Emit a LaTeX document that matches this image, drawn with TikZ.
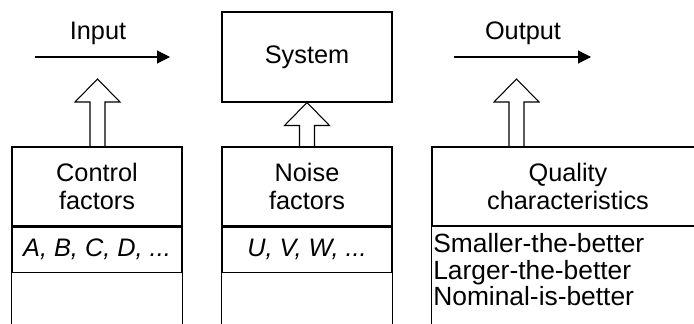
\documentclass[tikz,border=0pt]{standalone}
\usepackage{fontspec}
\setmainfont{Liberation Sans}
\usetikzlibrary{positioning,calc,arrows.meta}

\tikzset{
  txt/.style={font=\fontsize{14.4}{16}\selectfont},
  cell/.style={txt, draw, line width=0.6pt, minimum width=34mm, inner sep=0pt, align=center},
  head/.style={cell, minimum height=15.8mm},
  item/.style={cell, minimum height=9mm, font=\fontsize{14.4}{16}\selectfont\itshape},
  flow/.style={line width=0.6pt, -{Triangle[length=2.6mm,width=2.6mm]}},
  % block arrow pointing up, from the start point to the tip
  hollow/.style={line width=0.6pt, to path={let \p1=(\tikztostart), \p2=(\tikztotarget) in
    (\x1-1.5mm,\y1) -- (\x1-1.5mm,\y2-4.6mm) -- (\x1-4.5mm,\y2-4.6mm) -- (\x1,\y2)
    -- (\x1+4.5mm,\y2-4.6mm) -- (\x1+1.5mm,\y2-4.6mm) -- (\x1+1.5mm,\y1)}},
}

\begin{document}
\begin{tikzpicture}[x=0.2mm, y=-0.2mm]
    \useasboundingbox (0,0) rectangle (694,324);
    \clip (0,0) rectangle (694,324);
    % the system with its input and output
    \node[cell, minimum height=18mm] (sys) at (307,57) {System};
    \coordinate (inA) at (35,57);
    \coordinate (inB) at (170,57);
    \draw[flow] (inA) -- (inB);
    \node[txt] (inlbl) at (98,33) {Input};
    \coordinate (outA) at (454,57);
    \coordinate (outB) at (591,57);
    \draw[flow] (outA) -- (outB);
    \node[txt] (outlbl) at (523,33) {Output};
    % control factors
    \node[head] (ctrl) at (97,186.5) {Control\\factors};
    \node[item, below=0pt of ctrl] (ctrlset) {A, B, C, D, ...};
    \draw[line width=0.6pt] (ctrlset.south west) -- ++(0,70);
    \draw[line width=0.6pt] (ctrlset.south east) -- ++(0,70);
    % noise factors
    \node[head] (noise) at (307,186.5) {Noise\\factors};
    \node[item, below=0pt of noise] (noiseset) {U, V, W, ...};
    \draw[line width=0.6pt] (noiseset.south west) -- ++(0,70);
    \draw[line width=0.6pt] (noiseset.south east) -- ++(0,70);
    % quality characteristics
    \node[head, minimum width=54.4mm] (qual) at (568,186.5) {Quality\\characteristics};
    \node[font=\fontsize{15}{15.1}\selectfont, anchor=north west, align=left,
        inner xsep=0.3mm, inner ysep=1.3mm]
        (qualset) at (qual.south west) {Smaller-the-better\\Larger-the-better\\Nominal-is-better};
    \draw[line width=0.6pt] (qual.south west) -- ++(0,120);
    \draw[line width=0.6pt] (qual.south east) -- ++(0,120);
    % block arrows into the system and the output
    \coordinate (ctrltip) at (97.5,79);
    \coordinate (outtip) at (516.5,79);
    \draw[hollow] (ctrltip |- ctrl.north) to (ctrltip);
    \draw[hollow] (noise.north) to (sys.south);
    \draw[hollow] (outtip |- qual.north) to (outtip);
\end{tikzpicture}
\end{document}
